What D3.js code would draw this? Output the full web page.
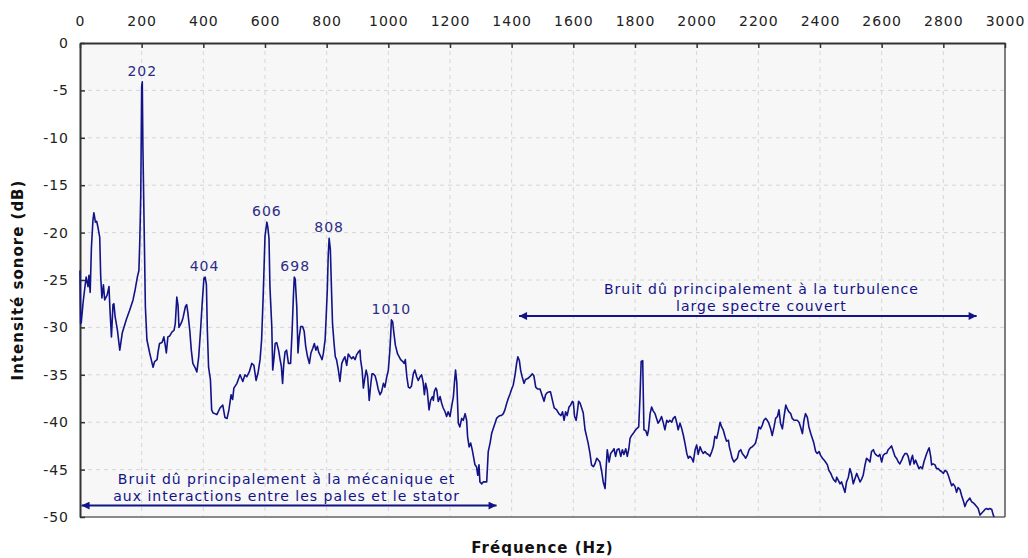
<!DOCTYPE html>
<html>
<head>
<meta charset="utf-8">
<script src="https://cdnjs.cloudflare.com/ajax/libs/d3/7.8.5/d3.min.js"></script>
<style>
  body { margin: 0; background: #fff; }
  text { font-family: 'DejaVu Sans', Verdana, sans-serif; letter-spacing: 1px; }
</style>
</head>
<body>
<svg></svg>
<script>
let width = 1028
let height = 558
let margin = { top: 43, right: 23, bottom: 41, left: 80 }

let freqTicks = d3.range(0, 3001, 200)
let dbTicks = [0, -5, -10, -15, -20, -25, -30, -35, -40, -45, -50]

// spectrum: [Hz, dB]
let spectrum = [[0,-24.0],[2,-29.6],[4,-29.5],[10,-27.4],[15,-26.0],[20,-24.7],[26,-25.7],[29,-24.5],[33,-26.3],[37,-21.6],[42,-18.7],[45,-17.9],[50,-18.9],[54,-18.8],[58,-19.4],[64,-20.5],[67,-24.5],[71,-26.9],[76,-25.5],[80,-27.1],[88,-26.6],[94,-25.7],[97,-28.0],[102,-31.0],[107,-27.6],[110,-27.5],[114,-28.9],[121,-30.2],[129,-32.4],[137,-30.6],[150,-29.2],[161,-28.2],[172,-27.1],[179,-26.0],[186,-24.7],[191,-24.0],[194,-20.8],[197,-16.2],[200,-4.6],[202,-4.1],[204,-10.9],[209,-21.5],[212,-27.8],[217,-31.3],[226,-32.7],[231,-33.4],[237,-34.2],[242,-33.6],[250,-33.4],[253,-32.6],[258,-31.7],[266,-31.6],[272,-31.0],[277,-32.0],[280,-32.7],[285,-31.0],[291,-30.9],[298,-30.5],[305,-30.3],[309,-29.6],[314,-26.8],[318,-27.7],[321,-30.0],[329,-29.5],[334,-29.0],[342,-27.8],[346,-27.6],[350,-28.5],[356,-30.3],[361,-32.4],[366,-33.8],[374,-34.3],[379,-34.7],[385,-33.1],[391,-30.3],[397,-27.1],[402,-24.8],[406,-24.7],[410,-25.5],[413,-30.3],[417,-34.2],[423,-35.5],[427,-38.7],[431,-39.0],[444,-39.2],[454,-38.5],[463,-38.2],[470,-39.5],[477,-39.6],[483,-38.7],[490,-37.1],[495,-37.6],[499,-36.4],[509,-35.9],[519,-35.0],[528,-35.7],[535,-35.0],[541,-35.2],[549,-34.7],[557,-33.8],[564,-34.0],[571,-35.6],[578,-34.7],[584,-33.4],[589,-31.3],[594,-26.8],[600,-20.4],[606,-18.9],[609,-19.4],[613,-20.6],[616,-25.7],[622,-29.9],[625,-34.5],[629,-33.3],[633,-31.7],[638,-31.6],[644,-32.4],[649,-33.4],[653,-34.1],[657,-35.9],[661,-33.8],[665,-32.6],[670,-32.4],[676,-33.8],[683,-33.8],[688,-30.3],[692,-26.8],[695,-24.7],[698,-24.9],[703,-27.8],[707,-32.7],[711,-31.0],[716,-29.9],[722,-29.9],[727,-30.4],[732,-32.0],[738,-33.1],[744,-33.8],[749,-32.7],[755,-32.2],[760,-31.7],[765,-32.4],[770,-32.0],[774,-32.6],[781,-33.1],[785,-33.4],[789,-32.8],[795,-31.3],[798,-29.2],[802,-26.1],[805,-22.5],[808,-20.6],[812,-21.8],[816,-26.4],[819,-29.6],[824,-31.7],[828,-33.1],[832,-33.4],[838,-34.5],[843,-35.7],[849,-33.8],[854,-33.4],[859,-33.1],[865,-34.0],[870,-32.8],[876,-33.1],[881,-33.3],[886,-33.1],[892,-33.4],[897,-32.9],[903,-32.6],[908,-32.4],[910,-33.4],[915,-34.5],[919,-36.4],[923,-35.5],[928,-34.5],[933,-35.2],[938,-37.7],[943,-36.0],[947,-34.9],[951,-34.9],[957,-35.1],[962,-35.7],[967,-36.5],[973,-37.1],[978,-36.8],[984,-35.9],[989,-36.3],[995,-35.2],[1000,-34.5],[1005,-32.4],[1008,-30.6],[1010,-29.2],[1014,-29.4],[1018,-30.6],[1023,-31.9],[1030,-32.8],[1040,-33.4],[1047,-33.6],[1051,-33.8],[1055,-33.4],[1060,-35.2],[1065,-36.3],[1070,-36.4],[1075,-36.2],[1081,-34.9],[1086,-34.5],[1092,-35.2],[1097,-35.6],[1103,-35.2],[1108,-35.0],[1113,-35.8],[1117,-37.1],[1121,-35.9],[1126,-36.6],[1132,-38.7],[1137,-37.7],[1143,-37.3],[1146,-37.7],[1149,-36.8],[1154,-36.4],[1157,-36.6],[1162,-37.8],[1168,-37.3],[1173,-38.0],[1178,-38.5],[1184,-38.9],[1189,-39.4],[1194,-38.9],[1200,-39.4],[1205,-38.4],[1211,-37.3],[1215,-35.6],[1218,-34.5],[1222,-35.8],[1227,-40.1],[1232,-40.5],[1238,-39.6],[1243,-39.8],[1249,-39.1],[1254,-39.8],[1257,-41.5],[1262,-42.6],[1267,-42.2],[1272,-42.9],[1276,-43.6],[1281,-44.5],[1286,-44.7],[1290,-45.6],[1294,-44.5],[1297,-46.3],[1303,-46.5],[1308,-46.3],[1314,-46.3],[1319,-46.3],[1324,-43.1],[1330,-42.2],[1335,-41.2],[1340,-40.7],[1346,-40.1],[1351,-39.6],[1357,-39.4],[1362,-39.3],[1367,-39.3],[1373,-39.1],[1378,-38.7],[1384,-38.0],[1389,-37.5],[1395,-37.0],[1400,-36.5],[1405,-36.1],[1411,-35.0],[1416,-33.8],[1420,-33.1],[1425,-33.5],[1429,-34.5],[1434,-35.2],[1440,-35.9],[1445,-35.5],[1452,-35.4],[1459,-35.2],[1467,-34.9],[1472,-35.1],[1478,-36.3],[1484,-36.5],[1492,-36.5],[1497,-37.0],[1505,-37.8],[1510,-37.1],[1515,-36.9],[1521,-36.8],[1526,-36.8],[1533,-37.8],[1538,-38.5],[1546,-38.7],[1553,-39.1],[1560,-39.3],[1565,-38.9],[1570,-39.8],[1575,-38.9],[1580,-39.3],[1586,-38.4],[1591,-38.2],[1597,-37.8],[1600,-37.9],[1604,-39.4],[1609,-39.8],[1613,-38.9],[1617,-37.8],[1622,-38.0],[1627,-38.5],[1632,-39.0],[1638,-40.8],[1643,-41.5],[1648,-42.2],[1654,-43.3],[1659,-44.5],[1665,-44.7],[1670,-44.4],[1676,-43.8],[1681,-44.0],[1686,-44.2],[1692,-45.2],[1697,-46.3],[1703,-47.0],[1706,-45.0],[1710,-42.9],[1716,-44.2],[1721,-43.3],[1726,-43.1],[1732,-42.8],[1737,-43.6],[1742,-42.9],[1748,-42.8],[1754,-43.6],[1759,-42.9],[1764,-43.4],[1770,-42.8],[1775,-43.6],[1780,-42.8],[1784,-41.7],[1789,-41.4],[1794,-41.2],[1800,-40.9],[1805,-40.7],[1812,-40.5],[1816,-37.5],[1820,-33.6],[1825,-33.5],[1827,-37.3],[1829,-40.8],[1835,-40.9],[1840,-41.4],[1844,-40.8],[1849,-39.1],[1854,-38.4],[1859,-38.8],[1865,-39.1],[1870,-39.6],[1875,-40.1],[1881,-39.8],[1886,-39.4],[1892,-40.1],[1897,-40.8],[1903,-39.8],[1908,-40.0],[1913,-39.8],[1919,-40.0],[1924,-39.6],[1930,-39.4],[1935,-40.0],[1940,-40.8],[1946,-40.1],[1951,-40.6],[1957,-41.4],[1962,-42.2],[1968,-43.3],[1973,-43.8],[1978,-43.6],[1984,-43.8],[1989,-44.2],[1995,-42.9],[2000,-42.4],[2005,-43.4],[2011,-42.6],[2016,-43.0],[2021,-43.3],[2027,-43.1],[2032,-43.3],[2038,-43.4],[2043,-43.6],[2049,-43.1],[2054,-42.6],[2059,-41.5],[2065,-41.7],[2070,-41.0],[2076,-40.0],[2081,-40.5],[2086,-40.8],[2092,-41.5],[2097,-42.0],[2103,-41.9],[2106,-42.6],[2110,-43.1],[2115,-43.8],[2121,-44.2],[2126,-44.0],[2132,-43.8],[2137,-43.1],[2143,-42.9],[2148,-43.3],[2153,-43.5],[2159,-43.8],[2164,-43.5],[2170,-42.9],[2175,-42.7],[2180,-42.6],[2186,-42.4],[2191,-42.2],[2196,-41.5],[2202,-40.5],[2207,-40.7],[2213,-40.3],[2218,-39.8],[2224,-39.6],[2229,-39.8],[2234,-40.1],[2240,-40.7],[2245,-41.4],[2251,-40.5],[2256,-39.6],[2262,-39.4],[2267,-38.7],[2272,-40.1],[2278,-40.7],[2283,-39.5],[2289,-38.2],[2294,-38.6],[2299,-38.9],[2305,-39.1],[2310,-39.6],[2316,-39.8],[2321,-39.8],[2326,-39.8],[2332,-40.0],[2337,-40.5],[2343,-41.2],[2348,-39.8],[2353,-39.1],[2359,-39.5],[2364,-40.5],[2370,-41.2],[2375,-41.7],[2380,-42.2],[2386,-43.1],[2391,-43.3],[2397,-43.1],[2402,-43.5],[2408,-43.8],[2413,-44.0],[2418,-44.2],[2424,-44.5],[2429,-45.1],[2435,-45.4],[2440,-45.8],[2445,-46.1],[2451,-46.3],[2454,-45.8],[2459,-46.1],[2465,-46.5],[2470,-46.3],[2475,-46.8],[2481,-47.4],[2486,-46.3],[2492,-45.8],[2497,-44.9],[2502,-45.4],[2508,-46.5],[2513,-46.0],[2519,-45.4],[2524,-45.8],[2530,-46.3],[2535,-46.0],[2540,-45.6],[2546,-44.5],[2551,-43.8],[2557,-44.0],[2562,-44.2],[2567,-43.1],[2573,-42.9],[2578,-43.3],[2584,-43.5],[2589,-43.6],[2594,-43.4],[2600,-44.2],[2605,-43.5],[2611,-43.3],[2616,-43.3],[2621,-42.9],[2627,-42.7],[2632,-42.5],[2638,-43.1],[2643,-43.6],[2648,-43.8],[2654,-44.2],[2659,-44.4],[2665,-44.0],[2670,-43.6],[2676,-43.3],[2681,-43.3],[2686,-43.6],[2692,-44.5],[2697,-43.8],[2700,-43.5],[2705,-44.4],[2710,-44.0],[2716,-44.5],[2721,-44.9],[2726,-44.7],[2732,-44.9],[2737,-44.2],[2743,-43.6],[2746,-43.3],[2751,-42.9],[2754,-42.7],[2759,-43.6],[2762,-44.5],[2767,-44.4],[2773,-44.5],[2778,-44.9],[2784,-44.9],[2789,-45.1],[2794,-45.2],[2800,-45.4],[2805,-45.1],[2811,-45.2],[2816,-45.6],[2821,-46.1],[2827,-46.7],[2832,-46.5],[2838,-46.8],[2843,-47.4],[2848,-46.9],[2854,-47.1],[2859,-47.7],[2865,-48.3],[2870,-48.9],[2876,-48.4],[2881,-48.2],[2886,-48.0],[2892,-48.4],[2897,-48.5],[2903,-48.7],[2908,-48.9],[2913,-49.1],[2919,-49.8],[2924,-49.6],[2930,-49.4],[2935,-49.2],[2940,-49.1],[2946,-49.2],[2951,-49.1],[2957,-49.2],[2962,-49.8],[2965,-50.0]]

let peakFreqs = [202, 404, 606, 698, 808, 1010]

let zoneLabels = [
    ['Bruit dû principalement à la mécanique et', 'aux interactions entre les pales et le stator'],
    ['Bruit dû principalement à la turbulence', 'large spectre couvert']
]
let zoneFrom = [5, 1424]
let zoneTo = [1351, 2908]
let zoneLevel = [-48.8, -28.8]
let zoneTextAt = [670, 2210]

let navy = '#131388'
let labelColor = '#2c2c86'

let svg = d3.select('svg')
    .attr('width', width)
    .attr('height', height)

let x = d3.scaleLinear()
    .domain([0, 3000])
    .range([margin.left, width - margin.right])
let y = d3.scaleLinear()
    .domain([-50, 0])
    .range([height - margin.bottom, margin.top])

// plot background
svg.append('rect')
    .attr('x', x(0))
    .attr('y', y(0))
    .attr('width', x(3000) - x(0))
    .attr('height', y(-50) - y(0))
    .attr('fill', '#f7f7f7')

// dashed grid
let grid = svg.append('g').attr('class', 'grid')
grid.selectAll('.vgrid')
    .data(freqTicks.filter(d => d > 0 && d < 3000)).enter()
    .append('line')
    .attr('x1', d => x(d)).attr('x2', d => x(d))
    .attr('y1', y(0)).attr('y2', y(-50))
    .attr('stroke', '#d6d6d6')
    .attr('stroke-dasharray', '4,4')
grid.selectAll('.hgrid')
    .data(dbTicks.filter(d => d < 0 && d > -50)).enter()
    .append('line')
    .attr('x1', x(0)).attr('x2', x(3000))
    .attr('y1', d => y(d)).attr('y2', d => y(d))
    .attr('stroke', '#d6d6d6')
    .attr('stroke-dasharray', '4,4')

// bottom and right frame
svg.append('line')
    .attr('x1', x(0)).attr('x2', x(3000))
    .attr('y1', y(-50)).attr('y2', y(-50))
    .attr('stroke', '#8a8a8a').attr('stroke-width', 2)
svg.append('line')
    .attr('x1', x(3000)).attr('x2', x(3000))
    .attr('y1', y(0)).attr('y2', y(-50))
    .attr('stroke', '#555').attr('stroke-width', 1.5)

// axes, plain numbers with an ascii minus
let plain = d => String(d)
let topAxis = svg.append('g')
    .attr('transform', `translate(0,${y(0)})`)
    .call(d3.axisTop(x).tickValues(freqTicks).tickFormat(plain)
        .tickSize(-5).tickPadding(17).tickSizeOuter(0))
let leftAxis = svg.append('g')
    .attr('transform', `translate(${x(0)},0)`)
    .call(d3.axisLeft(y).tickValues(dbTicks).tickFormat(plain)
        .tickSize(-5).tickPadding(11).tickSizeOuter(0))
;[topAxis, leftAxis].forEach(a => {
    a.select('.domain').attr('stroke', '#333').attr('stroke-width', 2)
    a.selectAll('.tick line').attr('stroke', '#333').attr('stroke-width', 1.5)
    a.selectAll('.tick text')
        .attr('fill', '#222')
        .style('font-size', '14px')
})

// spectrum line
let line = d3.line()
    .x(d => x(d[0]))
    .y(d => y(d[1]))
svg.append('path')
    .datum(spectrum)
    .attr('fill', 'none')
    .attr('stroke', navy)
    .attr('stroke-width', 1.6)
    .attr('stroke-linejoin', 'round')
    .attr('d', line)

// peak labels sit just above the local max
function peakLevel(f) {
    return d3.max(spectrum.filter(d => Math.abs(d[0] - f) <= 6), d => d[1])
}
svg.append('g').selectAll('text')
    .data(peakFreqs).enter()
    .append('text')
    .attr('x', d => x(d))
    .attr('y', d => y(peakLevel(d)) - 6)
    .attr('text-anchor', 'middle')
    .attr('fill', labelColor)
    .style('font-size', '14px')
    .text(d => d)

// zone arrows
svg.append('defs').append('marker')
    .attr('id', 'head')
    .attr('viewBox', '0 0 10 10')
    .attr('refX', 10)
    .attr('refY', 5)
    .attr('markerUnits', 'userSpaceOnUse')
    .attr('markerWidth', 11)
    .attr('markerHeight', 8)
    .attr('orient', 'auto-start-reverse')
    .append('path')
    .attr('d', 'M 0 0 L 10 5 L 0 10 z')
    .attr('fill', navy)

let zones = svg.append('g').selectAll('g')
    .data(zoneLabels).enter()
    .append('g')
zones.append('line')
    .attr('x1', (d, i) => x(zoneFrom[i]))
    .attr('x2', (d, i) => x(zoneTo[i]))
    .attr('y1', (d, i) => y(zoneLevel[i]))
    .attr('y2', (d, i) => y(zoneLevel[i]))
    .attr('stroke', navy)
    .attr('stroke-width', 2)
    .attr('marker-start', 'url(#head)')
    .attr('marker-end', 'url(#head)')
zones.each(function (lines, i) {
    d3.select(this).selectAll('text')
        .data(lines).enter()
        .append('text')
        .attr('x', x(zoneTextAt[i]))
        .attr('y', (d, j) => y(zoneLevel[i]) - 22 + j * 17)
        .attr('text-anchor', 'middle')
        .attr('fill', navy)
        .style('font-size', '14px')
        .text(d => d)
})

// axis titles
svg.append('text')
    .attr('x', (x(0) + x(3000)) / 2)
    .attr('y', 553)
    .attr('text-anchor', 'middle')
    .style('font-size', '15px')
    .style('font-weight', 'bold')
    .attr('fill', '#111')
    .text('Fréquence (Hz)')
svg.append('text')
    .attr('transform', `translate(23,${(y(0) + y(-50)) / 2}) rotate(-90)`)
    .attr('text-anchor', 'middle')
    .style('font-size', '15px')
    .style('font-weight', 'bold')
    .attr('fill', '#111')
    .text('Intensité sonore (dB)')
</script>
</body>
</html>
